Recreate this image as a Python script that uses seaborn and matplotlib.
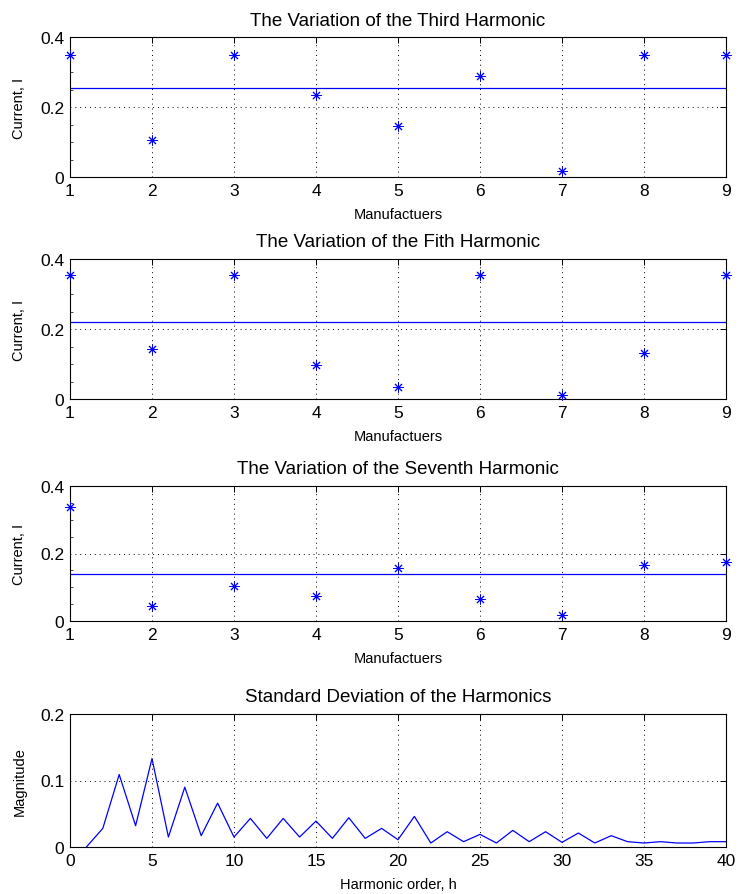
import numpy as np
import pandas as pd
import matplotlib
matplotlib.use("Agg")
import matplotlib.pyplot as plt
from matplotlib.ticker import AutoMinorLocator
import seaborn as sns

# ---- data ----
manufacturers = [1, 2, 3, 4, 5, 6, 7, 8, 9]
third = [0.348, 0.105, 0.348, 0.233, 0.145, 0.290, 0.016, 0.348, 0.348]
third_ref = 0.254
fifth = [0.353, 0.143, 0.353, 0.096, 0.035, 0.353, 0.012, 0.131, 0.353]
fifth_ref = 0.219
seventh = [0.337, 0.043, 0.104, 0.075, 0.157, 0.065, 0.019, 0.165, 0.174]
seventh_ref = 0.138

harmonic_order = list(range(1, 41))
std_dev = [0.000, 0.028, 0.109, 0.032, 0.133, 0.015, 0.090, 0.017, 0.066, 0.015,
           0.043, 0.013, 0.043, 0.015, 0.039, 0.013, 0.044, 0.013, 0.028, 0.011,
           0.046, 0.006, 0.023, 0.008, 0.019, 0.006, 0.025, 0.008, 0.023, 0.007,
           0.021, 0.006, 0.017, 0.008, 0.006, 0.008, 0.006, 0.006, 0.008, 0.008]

titles = ["The Variation of the Third Harmonic",
          "The Variation of the Fith Harmonic",
          "The Variation of the Seventh Harmonic",
          "Standard Deviation of the Harmonics"]

sns.set_style("white")
plt.rcParams['font.family'] = ['Liberation Sans', 'DejaVu Sans']
plt.rcParams['text.color'] = 'black'
plt.rcParams['axes.labelcolor'] = 'black'
plt.rcParams['xtick.color'] = 'black'
plt.rcParams['ytick.color'] = 'black'

fig = plt.figure(figsize=(7.4, 8.95), dpi=100)
W, H = 740.0, 895.0
left, right = 70, 726
panels_px = [(38, 178), (260, 400), (487, 622), (715, 848)]
axes = []
for top, bot in panels_px:
    axes.append(fig.add_axes([left / W, 1 - bot / H, (right - left) / W, (bot - top) / H]))

BLUE = (0, 0, 1)
TITLE_FS = 13.5
LABEL_FS = 10.5
TICK_FS = 12.5

def style_axis(ax, minor=True):
    for s in ax.spines.values():
        s.set_visible(True)
        s.set_color("black")
        s.set_linewidth(0.8)
    ax.tick_params(which="major", direction="in", top=True, right=True, length=4,
                   width=0.7, labelsize=TICK_FS, colors="black", pad=4)
    if minor:
        ax.yaxis.set_minor_locator(AutoMinorLocator(4))
        ax.tick_params(which="minor", direction="in", top=False, right=False,
                       bottom=False, left=True, length=2, width=0.5, colors="black")
    ax.grid(True, which="major", linestyle=(0, (1, 4)), color="black", linewidth=0.7)
    ax.set_axisbelow(True)

series = [(third, third_ref), (fifth, fifth_ref), (seventh, seventh_ref)]
for i, (vals, ref) in enumerate(series):
    ax = axes[i]
    df = pd.DataFrame({"m": manufacturers, "v": vals})
    sns.scatterplot(data=df, x="m", y="v", ax=ax, marker=(8, 2, 0), color=BLUE,
                    s=45, linewidth=0.7, clip_on=False, zorder=3)
    ax.axhline(ref, color=BLUE, linewidth=0.9)
    ax.set_xlim(1, 9)
    ax.set_ylim(0, 0.4)
    ax.set_xticks(manufacturers)
    ax.set_yticks([0, 0.2, 0.4])
    ax.set_yticklabels(["0", "0.2", "0.4"])
    ax.set_title(titles[i], fontsize=TITLE_FS, pad=9, color="black")
    ax.set_xlabel("Manufactuers", fontsize=LABEL_FS, labelpad=7)
    ax.set_ylabel("Current, I", fontsize=LABEL_FS, labelpad=10)
    style_axis(ax)

ax = axes[3]
df4 = pd.DataFrame({"h": harmonic_order, "s": std_dev})
sns.lineplot(data=df4, x="h", y="s", ax=ax, color=BLUE, linewidth=0.9)
ax.set_xlim(0, 40)
ax.set_ylim(0, 0.2)
ax.set_xticks(range(0, 41, 5))
ax.set_yticks([0, 0.1, 0.2])
ax.set_yticklabels(["0", "0.1", "0.2"])
ax.set_title(titles[3], fontsize=TITLE_FS, pad=9, color="black")
ax.set_xlabel("Harmonic order, h", fontsize=LABEL_FS, labelpad=7)
ax.set_ylabel("Magnitude", fontsize=LABEL_FS, labelpad=10)
style_axis(ax, minor=False)

fig.savefig("out.png", dpi=100)
